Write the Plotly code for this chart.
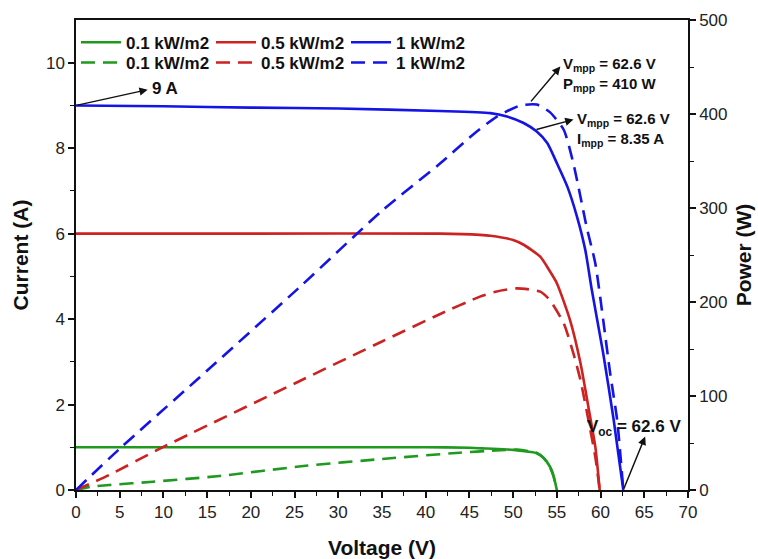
import plotly.graph_objects as go

# ---------------- data ----------------
# Current (A) vs Voltage (V)
v_i_01 = [0, 20, 40, 45, 47, 50, 52, 52.7, 53.5, 54.2, 54.6, 55.0]
i_01 = [1.0, 1.0, 1.0, 0.99, 0.97, 0.94, 0.89, 0.86, 0.75, 0.55, 0.35, 0.0]

v_i_05 = [0, 20, 41.6, 46.2, 47.4, 50.0, 51.2, 53.1, 54.2, 55.0, 56.5, 57.7, 58.6, 59.4, 59.9]
i_05 = [6.0, 6.0, 6.0, 5.97, 5.95, 5.85, 5.74, 5.46, 5.12, 4.84, 3.98, 2.97, 1.95, 1.01, 0.0]

v_i_1 = [0, 10, 20, 30, 41.6, 47.4, 49.3, 51.2, 52.7, 53.9, 55.0, 56.2, 57.3, 58.25, 59.0, 60.3, 61.5, 62.6]
i_1 = [9.0, 8.98, 8.95, 8.93, 8.87, 8.82, 8.74, 8.59, 8.39, 8.12, 7.65, 7.10, 6.40, 5.62, 4.68, 3.2, 1.64, 0.0]

# Power (W) vs Voltage (V)
v_p_01 = [0, 1.7, 3.8, 8.8, 16.4, 26.0, 35.0, 43.9, 48.0, 50.5, 52.7, 53.5, 54.2, 54.6, 55.0]
p_01 = [0, 3.5, 5.3, 8.8, 14.9, 25.5, 33.0, 39.7, 42.0, 43.0, 39.4, 34.0, 24.5, 15.0, 0]

v_p_05 = [0, 3.8, 9.6, 25.6, 35.0, 41.6, 46.2, 48.0, 50.4, 53.1, 54.2, 55.8, 56.9, 57.7, 58.6, 59.4, 59.9]
p_05 = [0, 16, 44, 116, 158, 187, 205.7, 211, 214.5, 211, 202, 177, 145, 117, 75, 35, 0]

v_p_1 = [0, 5.0, 13.8, 25.6, 35.0, 41.6, 45.4, 48.1, 50.8, 52.7, 54.2, 55.8, 56.9, 57.7, 58.4, 59.4, 60.3, 61.1, 61.9, 62.6]
p_1 = [0, 44, 117, 216, 297, 347, 378, 397, 409, 410, 402, 383, 347, 312, 280, 241, 181, 124, 74, 0]

labels = ["0.1 kW/m2", "0.5 kW/m2", "1 kW/m2"]
colors = ["#1f9a1f", "#cc2222", "#1414e6"]

i_sc = 9
v_mpp = 62.6
p_mpp = 410
i_mpp = 8.35
v_oc = 62.6

FONT = "Liberation Sans, Arial, sans-serif"

fig = go.Figure()

cur_sets = [(v_i_01, i_01), (v_i_05, i_05), (v_i_1, i_1)]
pow_sets = [(v_p_01, p_01), (v_p_05, p_05), (v_p_1, p_1)]

for (vx, iy), lab, col in zip(cur_sets, labels, colors):
    fig.add_trace(go.Scatter(x=vx, y=iy, mode="lines", name=lab,
                             line=dict(color=col, width=2.6, shape="spline", smoothing=0.6),
                             legend="legend", yaxis="y"))
for (vx, py), lab, col in zip(pow_sets, labels, colors):
    fig.add_trace(go.Scatter(x=vx, y=py, mode="lines", name=lab,
                             line=dict(color=col, width=2.6, dash="14px,8px", shape="spline", smoothing=0.6),
                             legend="legend2", yaxis="y2"))

tickfont = dict(family=FONT, size=17, color="#222")
titlefont = dict(family=FONT, size=21, color="#111", weight="bold")

fig.update_layout(
    width=758, height=559,
    margin=dict(l=76, r=70, t=20, b=69, autoexpand=False),
    paper_bgcolor="white", plot_bgcolor="white",
    showlegend=True,
    xaxis=dict(range=[0, 70], dtick=5, tick0=0, showgrid=False, zeroline=False, automargin=False,
               showline=True, linecolor="#111", linewidth=1.5, mirror=True,
               ticks="outside", ticklen=6, tickwidth=1.5, tickcolor="#111",
               minor=dict(dtick=2.5, ticks="outside", ticklen=4, tickwidth=1.2, tickcolor="#111"),
               tickfont=tickfont,
               title=dict(text="<b>Voltage (V)</b>", font=titlefont, standoff=20)),
    yaxis=dict(range=[0, 11], tickvals=[0, 2, 4, 6, 8, 10], showgrid=False, zeroline=False, automargin=False,
               showline=True, linecolor="#111", linewidth=1.5,
               ticks="outside", ticklen=6, tickwidth=1.5, tickcolor="#111",
               minor=dict(tickvals=[1, 3, 5, 7, 9], ticks="outside", ticklen=4, tickwidth=1.2, tickcolor="#111"),
               tickfont=tickfont,
               title=dict(text="<b>Current (A)</b>", font=titlefont, standoff=12)),
    yaxis2=dict(range=[0, 500], dtick=100, overlaying="y", side="right", showgrid=False, zeroline=False,
                automargin=False,
                showline=True, linecolor="#111", linewidth=1.5,
                ticks="outside", ticklen=6, tickwidth=1.5, tickcolor="#111",
                minor=dict(dtick=50, ticks="outside", ticklen=4, tickwidth=1.2, tickcolor="#111"),
                tickfont=tickfont,
                title=dict(text="<b>Power (W)</b>", font=titlefont, standoff=10)),
    legend=dict(orientation="h", x=0.0, xanchor="left", y=0.99, yanchor="top",
                bgcolor="rgba(0,0,0,0)", font=dict(family=FONT, size=17, color="#111", weight="bold"),
                itemwidth=40, entrywidth=80, entrywidthmode="pixels", tracegroupgap=0),
    legend2=dict(orientation="h", x=0.0, xanchor="left", y=0.947, yanchor="top",
                 bgcolor="rgba(0,0,0,0)", font=dict(family=FONT, size=17, color="#111", weight="bold"),
                 itemwidth=40, entrywidth=80, entrywidthmode="pixels", tracegroupgap=0),
)

afont = dict(family=FONT, size=15, color="#111")
arrow_kw = dict(showarrow=True, arrowhead=2, arrowsize=1.1, arrowwidth=1.5, arrowcolor="#111",
                xref="x", yref="y", axref="x", ayref="y", text="")

# arrows (head near text, tail at the data point)
fig.add_annotation(x=8.2, y=9.37, ax=0, ay=i_sc, **arrow_kw)
fig.add_annotation(x=55.4, y=9.91, ax=51.9, ay=9.06, **arrow_kw)
fig.add_annotation(x=56.9, y=8.67, ax=52.5, ay=8.43, **arrow_kw)
fig.add_annotation(x=65.1, y=1.25, ax=v_oc, ay=0, **arrow_kw)

fig.add_annotation(x=8.5, y=9.4, xref="x", yref="y", xanchor="left", yanchor="middle",
                   text=f"<b>{i_sc} A</b>", showarrow=False, font=dict(family=FONT, size=17, color="#111"))
fig.add_annotation(x=55.5, y=9.72, xref="x", yref="y", xanchor="left", yanchor="middle", align="left",
                   text=f"<b>V<sub>mpp</sub> = {v_mpp} V<br>P<sub>mpp</sub> = {p_mpp} W</b>",
                   showarrow=False, font=afont)
fig.add_annotation(x=57.1, y=8.43, xref="x", yref="y", xanchor="left", yanchor="middle", align="left",
                   text=f"<b>V<sub>mpp</sub> = {v_mpp} V<br>I<sub>mpp</sub> = {i_mpp} A</b>",
                   showarrow=False, font=afont)
fig.add_annotation(x=58.2, y=1.45, xref="x", yref="y", xanchor="left", yanchor="middle",
                   text=f"<b>V<sub>oc</sub> = {v_oc} V</b>",
                   showarrow=False, font=dict(family=FONT, size=17, color="#111"))

fig.write_html("out.html")
